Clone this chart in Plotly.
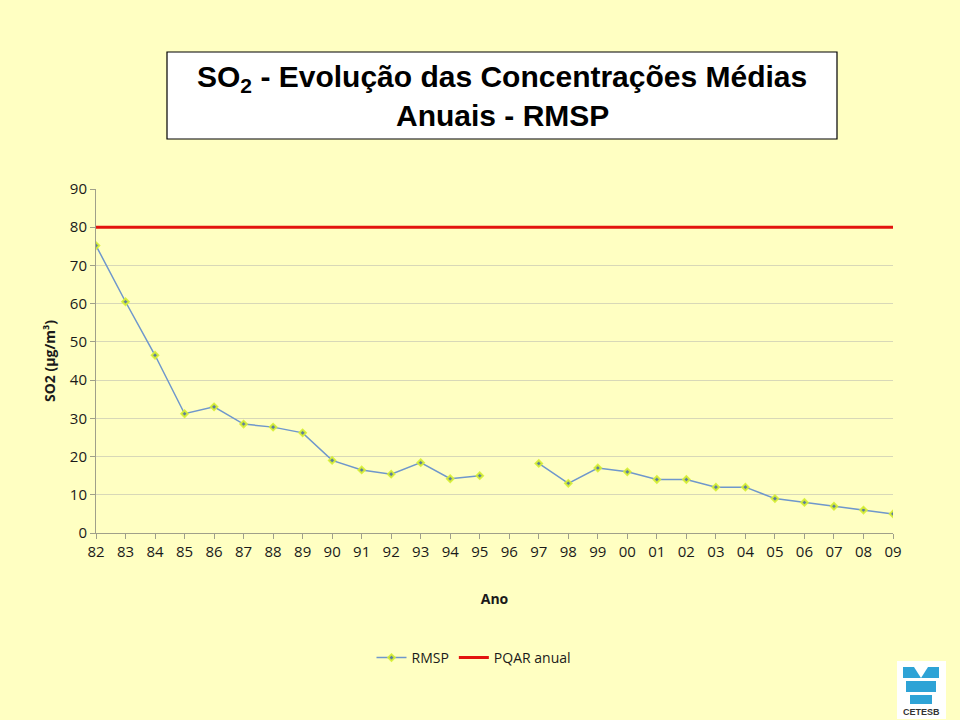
import plotly.graph_objects as go

years = ["82","83","84","85","86","87","88","89","90","91","92","93","94","95","96",
         "97","98","99","00","01","02","03","04","05","06","07","08","09"]
rmsp = [75.2, 60.5, 46.5, 31.2, 33.0, 28.5, 27.7, 26.2, 19.0, 16.5, 15.4, 18.4, 14.2, 15.0, None,
        18.2, 13.0, 17.0, 16.0, 14.0, 14.0, 12.0, 12.0, 9.0, 8.0, 7.0, 6.0, 5.0]
pqar = [80] * len(years)

BG = "#FFFFC2"
W, H = 960, 720
L, R, T, B = 96, 893, 189, 533

def px(x):
    return (x - L) / (R - L)

def py(y):
    return (B - y) / (B - T)

fig = go.Figure()
fig.add_trace(go.Scatter(
    x=years, y=rmsp, name="RMSP", mode="lines+markers",
    line=dict(color="#6F97CC", width=1.5),
    marker=dict(symbol="diamond", size=5, color="#5C7E9E",
                line=dict(color="rgba(215,240,50,0.9)", width=2)),
    connectgaps=False,
))
fig.add_trace(go.Scatter(
    x=years, y=pqar, name="PQAR anual", mode="lines",
    line=dict(color="#E3140E", width=3),
))

FONT = "Open Sans, Calibri, sans-serif"
tickfont = dict(family=FONT, size=15, color="#1a1a1a")

fig.update_layout(
    width=W, height=H,
    paper_bgcolor=BG, plot_bgcolor=BG,
    margin=dict(l=L, r=W - R, t=T, b=H - B),
    showlegend=True,
    legend=dict(orientation="h", x=px(474), xanchor="center", y=py(658), yanchor="middle",
                font=dict(family=FONT, size=14, color="#1a1a1a"),
                bgcolor="rgba(0,0,0,0)", itemwidth=30, tracegroupgap=0),
    xaxis=dict(type="category", range=[0, 27], showgrid=False, zeroline=False,
               showline=True, linecolor="#A0A08A", linewidth=1,
               ticks="outside", ticklen=5, tickcolor="#A0A08A",
               tickfont=tickfont,
               title=dict(text="<b>Ano</b>", font=dict(family=FONT, size=14, color="#1a1a1a"),
                          standoff=34)),
    yaxis=dict(range=[0, 90], dtick=10, showgrid=True, gridcolor="#D8D8B8", gridwidth=1,
               zeroline=False, showline=True, linecolor="#A0A08A", linewidth=1,
               ticks="outside", ticklen=5, tickcolor="#A0A08A",
               tickfont=tickfont,
               title=dict(text="<b>SO2 (µg/m³)</b>", font=dict(family=FONT, size=14, color="#1a1a1a"),
                          standoff=10)),
)

# Title box
fig.add_shape(type="rect", xref="paper", yref="paper",
              x0=px(167), x1=px(837), y0=py(139), y1=py(52),
              fillcolor="white", line=dict(color="black", width=1.2), layer="above")
fig.add_annotation(xref="paper", yref="paper", x=px(502), y=py(78), showarrow=False,
                   text="<b>SO<sub>2</sub> - Evolução das Concentrações Médias</b>",
                   font=dict(family="Liberation Sans, Arial, sans-serif", size=30, color="black"),
                   xanchor="center", yanchor="middle")
fig.add_annotation(xref="paper", yref="paper", x=px(502), y=py(115), showarrow=False,
                   text="<b>Anuais - RMSP</b>",
                   font=dict(family="Liberation Sans, Arial, sans-serif", size=30, color="black"),
                   xanchor="center", yanchor="middle")

# CETESB logo (approximation)
fig.add_shape(type="rect", xref="paper", yref="paper",
              x0=px(897), x1=px(946), y0=py(719), y1=py(661),
              fillcolor="white", line=dict(width=0), layer="above")
blue = "#2EA3D6"
bands = [(667, 678, 903, 939), (681, 692, 906, 936), (695, 704, 910, 932)]
for (ya, yb, xa, xb) in bands:
    fig.add_shape(type="rect", xref="paper", yref="paper",
                  x0=px(xa), x1=px(xb), y0=py(yb), y1=py(ya),
                  fillcolor=blue, line=dict(width=0), layer="above")
fig.add_shape(type="path", xref="paper", yref="paper",
              path=f"M {px(914)},{py(667)} L {px(921)},{py(678)} L {px(928)},{py(667)} Z",
              fillcolor="white", line=dict(width=0), layer="above")
fig.add_annotation(xref="paper", yref="paper", x=px(921), y=py(712), showarrow=False,
                   text="<b>CETESB</b>",
                   font=dict(family="Liberation Sans, Arial, sans-serif", size=9, color="#333333"),
                   xanchor="center", yanchor="middle")

fig.write_html("out.html")
